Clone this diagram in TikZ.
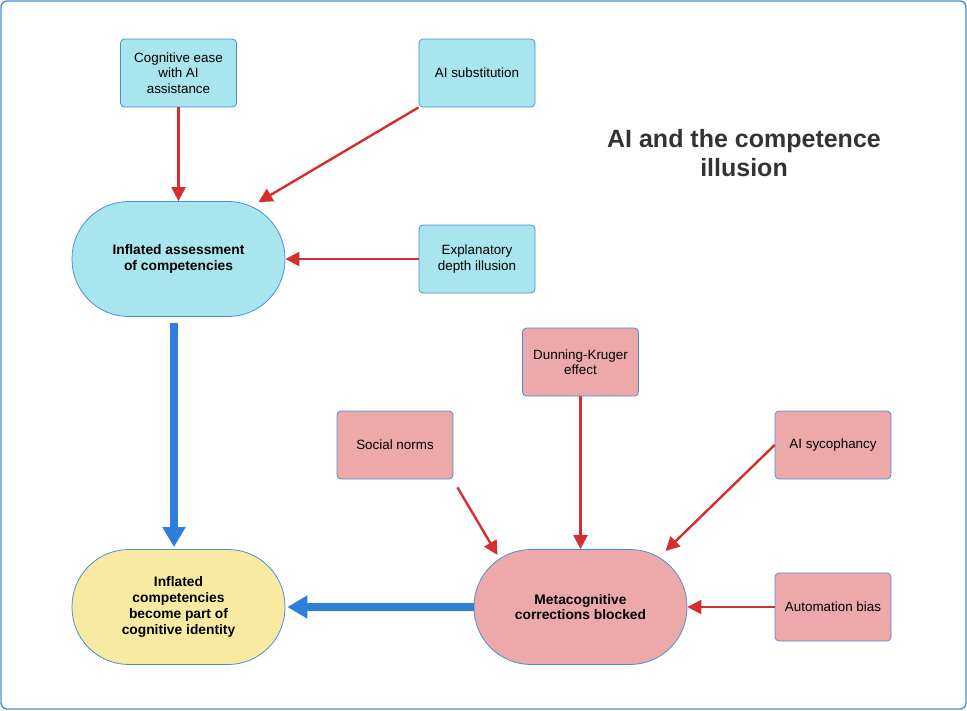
\documentclass[tikz,border=0pt]{standalone}
\usepackage{fontspec}
\setmainfont{Liberation Sans}
\usepackage{tikz}
\usetikzlibrary{positioning,arrows.meta,calc}

\definecolor{cyanfill}{HTML}{A9E5EE}
\definecolor{pinkfill}{HTML}{EDA9A9}
\definecolor{yellowfill}{HTML}{F8EBA1}
\definecolor{edgeblue}{HTML}{4A8FD6}
\definecolor{arrowred}{HTML}{D32F2F}
\definecolor{arrowblue}{HTML}{2F7FD8}

\begin{document}
\begin{tikzpicture}[
  x=1pt, y=-1pt,
  font=\fontsize{13.4}{15.5}\selectfont,
  factor/.style={draw=edgeblue, rounded corners=4pt, align=center, inner sep=3pt,
                 minimum width=116pt, minimum height=68pt, line width=0.8pt},
  cyanbox/.style={factor, fill=cyanfill},
  pinkbox/.style={factor, fill=pinkfill},
  stage/.style={draw=edgeblue, rounded corners=57pt, align=center, line width=0.8pt,
                minimum width=213pt, minimum height=115pt,
                font=\fontsize{13.8}{15.8}\selectfont\bfseries},
  redarrow/.style={draw=arrowred, line width=2.4pt,
                   -{Triangle[length=14pt,width=14pt]}},
  bluearrow/.style={draw=arrowblue, line width=8pt,
                    -{Triangle[length=20pt,width=22pt]}}
]
\useasboundingbox (0,0) rectangle (967,710);
\draw[edgeblue, line width=1.4pt, rounded corners=6pt] (1,1) rectangle (966,709);

% Title
\node[font=\fontsize{25}{29.5}\selectfont\bfseries, text=black!80, align=center]
  (title) at (744,153) {AI and the competence\\ illusion};

% Upper stage
\node[cyanbox] (ease)    at (178.5,73) {Cognitive ease\\ with AI\\ assistance};
\node[cyanbox] (subst)   at (477,73)   {AI substitution};
\node[cyanbox] (explain) at (477,259)  {Explanatory\\ depth illusion};
\node[stage, fill=cyanfill] (assess) at (178.5,259) {Inflated assessment\\ of competencies};

% Lower stage
\node[pinkbox] (dunning) at (580.5,362) {Dunning-Kruger\\ effect};
\node[pinkbox] (social)  at (395,445) {Social norms};
\node[pinkbox] (syco)    at (833,445) {AI sycophancy};
\node[pinkbox] (autobias) at (833,607) {Automation bias};
\node[stage, fill=pinkfill] (blocked) at (580.5,607) {Metacognitive\\ corrections blocked};
\node[stage, fill=yellowfill] (identity) at (178.5,607) {Inflated\\ competencies\\ become part of\\ cognitive identity};

% Flows
\draw[redarrow] (ease) -- (assess);
\draw[redarrow] (subst.south west) -- ([shift={(80pt,-1pt)}]assess.north);
\draw[redarrow] (explain) -- (assess);

\draw[redarrow] (dunning) -- (blocked);
\draw[redarrow] ([shift={(4pt,-8pt)}]social.south east) -- ([shift={(-83pt,52pt)}]blocked.center);
\draw[redarrow] (syco.west) -- ([shift={(85pt,56pt)}]blocked.center);
\draw[redarrow] (autobias) -- (blocked);

\draw[bluearrow] ([shift={(-4.5pt,-6pt)}]assess.south) -- ([shift={(-4.5pt,2pt)}]identity.north);
\draw[bluearrow] (blocked.west) -- ([xshift=2pt]identity.east);

\end{tikzpicture}
\end{document}
